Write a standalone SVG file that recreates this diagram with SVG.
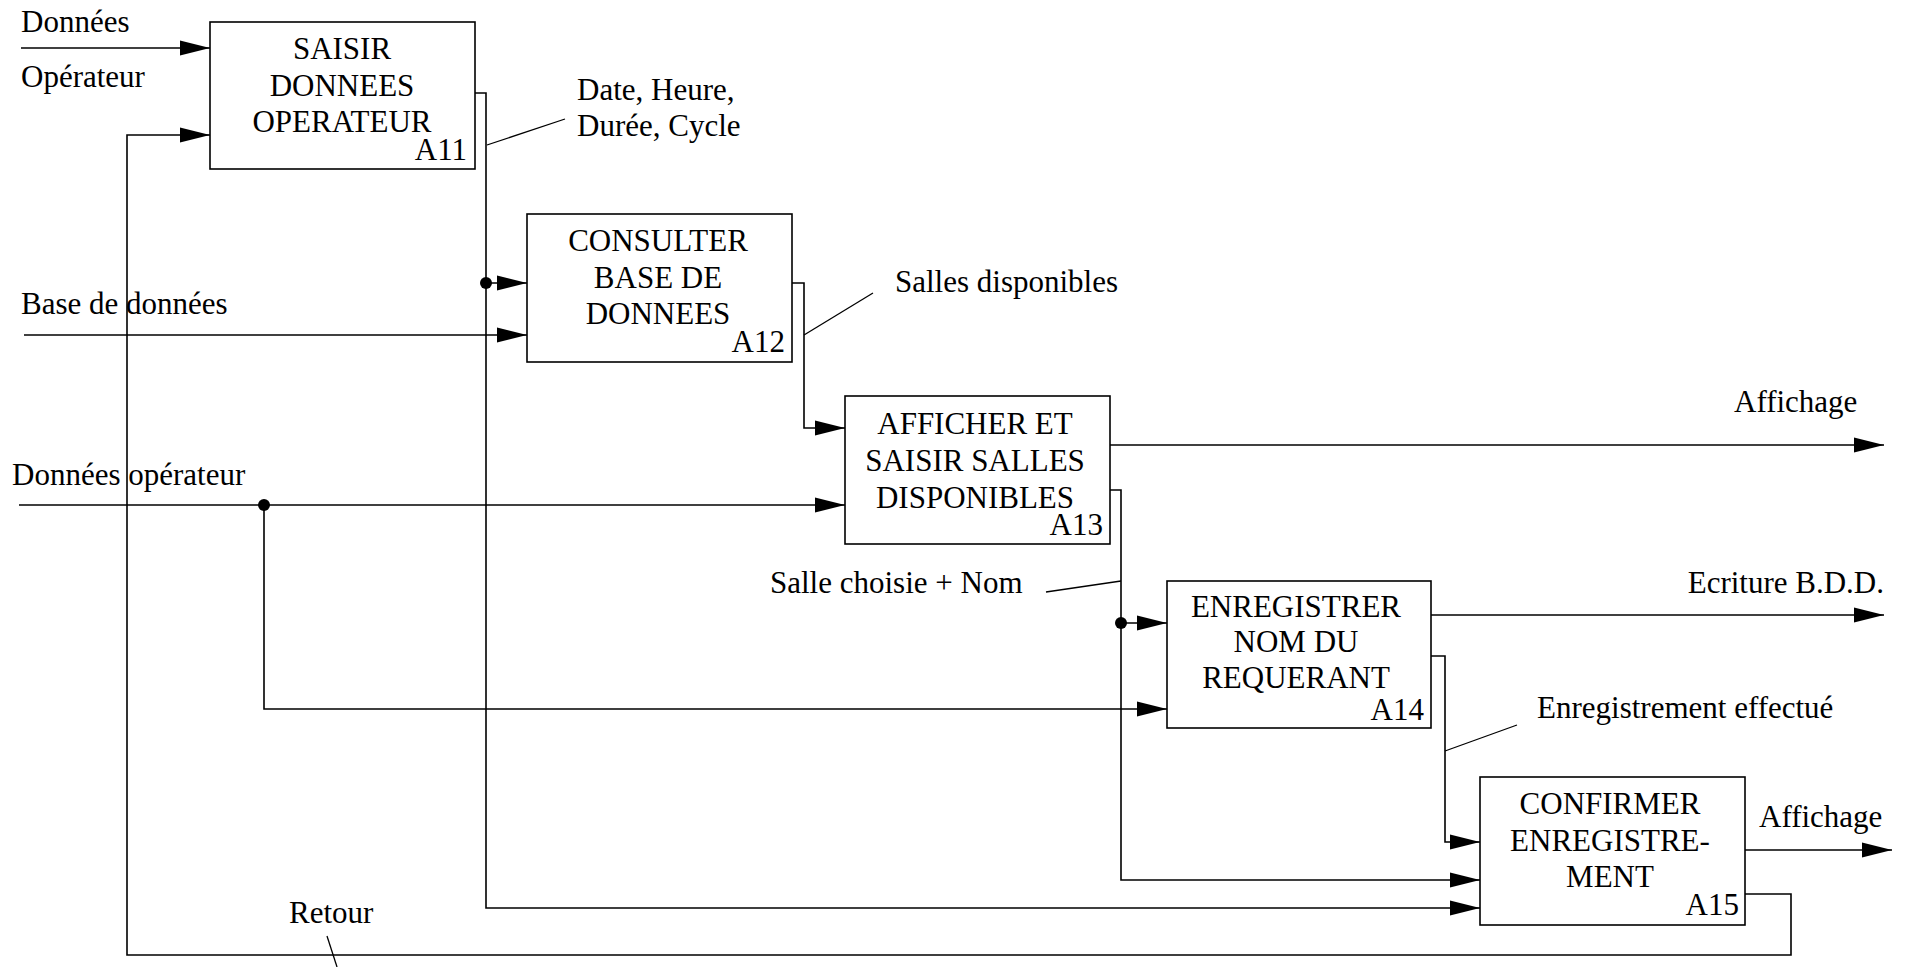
<svg xmlns="http://www.w3.org/2000/svg" width="1908" height="967" viewBox="0 0 1908 967">
<style>
text{font-family:"Liberation Serif","Times New Roman",serif;font-size:31px;fill:#000}
.c{text-anchor:middle}
.r{text-anchor:end}
.box{fill:#fff;stroke:#000;stroke-width:1.6}
.ln{fill:none;stroke:#000;stroke-width:1.6}
.ld{fill:none;stroke:#000;stroke-width:1.3}
.arr{marker-end:url(#ah)}
</style>
<defs>
<marker id="ah" markerUnits="userSpaceOnUse" markerWidth="30" markerHeight="16" refX="30" refY="8" orient="auto">
<path d="M0,0.5 L30,8 L0,15.5 z" fill="#000"/>
</marker>
</defs>
<rect width="1908" height="967" fill="#fff"/>
<g id="connectors">
<path class="ln arr" d="M21,48 H210"/>
<path class="ln arr" d="M1745,894 H1791 V955 H127 V135 H210"/>
<path class="ln arr" d="M475,93 H486 V908 H1480"/>
<path class="ln arr" d="M486,283 H527"/>
<circle cx="486" cy="283" r="6" fill="#000"/>
<path class="ln arr" d="M24,335 H527"/>
<path class="ln arr" d="M792,283 H804 V428 H845"/>
<path class="ln arr" d="M19,505 H845"/>
<path class="ln arr" d="M264,505 V709 H1167"/>
<circle cx="264" cy="505" r="6" fill="#000"/>
<path class="ln arr" d="M1110,445 H1884"/>
<path class="ln arr" d="M1110,490 H1121 V880 H1480"/>
<path class="ln arr" d="M1121,623 H1167"/>
<circle cx="1121" cy="623" r="6" fill="#000"/>
<path class="ln arr" d="M1431,615 H1884"/>
<path class="ln arr" d="M1431,656 H1445 V842 H1480"/>
<path class="ln arr" d="M1745,850 H1892"/>
<path class="ld" d="M487,145 L565,119"/>
<path class="ld" d="M804,335 L873,293"/>
<path class="ld" d="M1046,592 L1121,581"/>
<path class="ld" d="M1445,751 L1517,725"/>
<path class="ld" d="M327,936 L337,967"/>
</g>
<g id="labels">
<text x="21" y="32">Données</text>
<text x="21" y="87">Opérateur</text>
<text x="577" y="100">Date, Heure,</text>
<text x="577" y="136">Durée, Cycle</text>
<text x="21" y="314">Base de données</text>
<text x="895" y="292">Salles disponibles</text>
<text x="1734" y="412">Affichage</text>
<text x="12" y="485">Données opérateur</text>
<text x="770" y="593">Salle choisie + Nom</text>
<text class="r" x="1884" y="593">Ecriture B.D.D.</text>
<text x="1537" y="718">Enregistrement effectué</text>
<text x="1759" y="827">Affichage</text>
<text x="289" y="923">Retour</text>
</g>
<g id="A11">
<rect class="box" x="210" y="22" width="265" height="147"/>
<text class="c" x="342" y="59">SAISIR</text>
<text class="c" x="342" y="96">DONNEES</text>
<text class="c" x="342" y="132">OPERATEUR</text>
<text class="r" x="467" y="160">A11</text>
</g>
<g id="A12">
<rect class="box" x="527" y="214" width="265" height="148"/>
<text class="c" x="658" y="251">CONSULTER</text>
<text class="c" x="658" y="288">BASE DE</text>
<text class="c" x="658" y="324">DONNEES</text>
<text class="r" x="785" y="352">A12</text>
</g>
<g id="A13">
<rect class="box" x="845" y="396" width="265" height="148"/>
<text class="c" x="975" y="434">AFFICHER ET</text>
<text class="c" x="975" y="471">SAISIR SALLES</text>
<text class="c" x="975" y="508">DISPONIBLES</text>
<text class="r" x="1103" y="535">A13</text>
</g>
<g id="A14">
<rect class="box" x="1167" y="581" width="264" height="147"/>
<text class="c" x="1296" y="617">ENREGISTRER</text>
<text class="c" x="1296" y="652">NOM DU</text>
<text class="c" x="1296" y="688">REQUERANT</text>
<text class="r" x="1424" y="720">A14</text>
</g>
<g id="A15">
<rect class="box" x="1480" y="777" width="265" height="148"/>
<text class="c" x="1610" y="814">CONFIRMER</text>
<text class="c" x="1610" y="851">ENREGISTRE-</text>
<text class="c" x="1610" y="887">MENT</text>
<text class="r" x="1739" y="915">A15</text>
</g>
</svg>
